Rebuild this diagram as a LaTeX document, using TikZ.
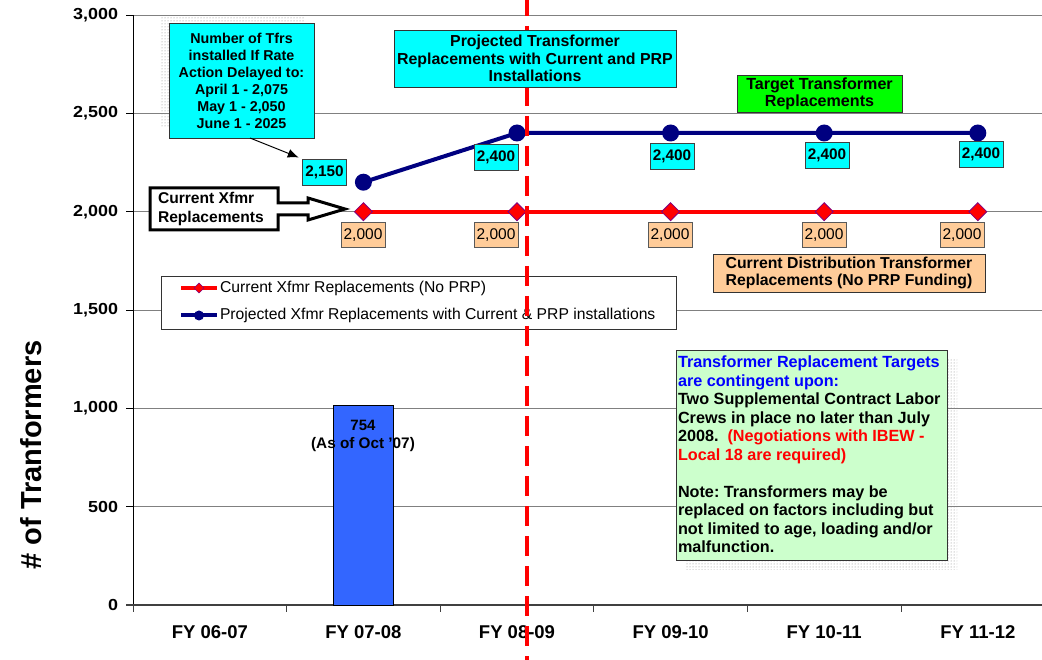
\documentclass[tikz,border=0pt]{standalone}
\usepackage{fontspec}
\setmainfont{Liberation Sans}
\usetikzlibrary{patterns,arrows.meta,shapes.geometric}
\frenchspacing

\definecolor{boxcyan}{HTML}{00FFFF}
\definecolor{boxorange}{HTML}{FFCC99}
\definecolor{boxgreen}{HTML}{00FF00}
\definecolor{notegreen}{HTML}{CCFFCC}
\definecolor{barblue}{HTML}{3366FF}
\definecolor{navyline}{HTML}{000080}
\definecolor{redline}{HTML}{FF0000}
\definecolor{diaedge}{HTML}{800080}
\definecolor{gridgray}{HTML}{808080}
\definecolor{noteblue}{HTML}{0000FF}

\newcommand\fsz[2]{\fontsize{#1}{#2}\selectfont}

\tikzset{
  every node/.style={inner sep=0pt, outer sep=0pt},
  gridline/.style={draw=gridgray, line width=0.8pt},
  textbox/.style={draw=black!80, line width=0.8pt, align=center,
                  font=\bfseries\fsz{15.9}{17.5}},
  valcyan/.style={draw=black!75, line width=0.7pt, fill=boxcyan,
                  minimum width=44pt, minimum height=26pt,
                  font=\bfseries\fsz{15.3}{17}},
  valorange/.style={draw=black!65, line width=0.7pt, fill=boxorange,
                  minimum width=44pt, minimum height=25pt,
                  font=\fsz{15.5}{17}},
  bmark/.style={circle, fill=navyline, minimum size=17pt},
  rmark/.style={diamond, fill=redline, draw=diaedge, line width=0.8pt,
                minimum size=18pt},
  bseries/.style={draw=navyline, line width=4pt},
  rseries/.style={draw=redline, line width=4pt},
  ylbl/.style={anchor=east, font=\bfseries\fsz{16}{18}},
  xlbl/.style={font=\bfseries\fsz{18.5}{20}},
  dotshadow/.style={pattern=dots, pattern color=gray},
}

\begin{document}
\begin{tikzpicture}[x=1pt, y=-1pt]
\useasboundingbox (0,0) rectangle (1042,660);

% ---------- grid and axes ----------
\foreach \v/\t in {0/0,500/500,1000/{1,000},1500/{1,500},2000/{2,000},2500/{2,500},3000/{3,000}}{
  \pgfmathsetmacro\py{605-\v*0.196667}
  \ifnum\v>0
    \draw[gridline] (133,\py) -- (1042,\py);
  \fi
  \draw[black, line width=0.8pt] (126,\py) -- (133,\py);
  \node[ylbl] (y\v) at (118,\py) {\scalebox{1.12}[1]{\t}};
}
\draw[black, line width=1pt] (133,15) -- (133,605);
\draw[black!75, line width=2pt] (126,605) -- (1042,605);
\foreach \tx in {133,286.6,440.2,593.8,747.4,901}{
  \draw[black!75, line width=1pt] (\tx,605) -- (\tx,612);
}
\foreach \i/\t in {0/FY 06-07,1/FY 07-08,2/FY 08-09,3/FY 09-10,4/FY 10-11,5/FY 11-12}{
  \node[xlbl] (fy\i) at ({133+153.6*(\i+0.5)},632) {\t};
}

% axis title
\node[rotate=90, font=\bfseries\fsz{29}{32}] (ytitle) at (31,455) {\# of Tranformers};

% ---------- bar ----------
\draw[fill=barblue, draw=black, line width=0.8pt] (333,605) rectangle (393,405);
\node[font=\bfseries\fsz{15}{16}] (barval) at (363,425) {754};
\node[font=\bfseries\fsz{15.3}{16}] (bardate) at (363,445) {(As of Oct '07)};

% ---------- series ----------
\coordinate (r1) at (363.4,211.7);
\coordinate (r2) at (517,211.7);
\coordinate (r3) at (670.6,211.7);
\coordinate (r4) at (824.2,211.7);
\coordinate (r5) at (977.8,211.7);
\coordinate (b1) at (363.4,182.2);
\coordinate (b2) at (517,133);
\coordinate (b3) at (670.6,133);
\coordinate (b4) at (824.2,133);
\coordinate (b5) at (977.8,133);

\draw[rseries] (r1) -- (r2) -- (r3) -- (r4) -- (r5);
\draw[bseries] (b1) -- (b2) -- (b3) -- (b4) -- (b5);
\foreach \k in {1,...,5}{
  \node[rmark] (rm\k) at (r\k) {};
  \node[bmark] (bm\k) at (b\k) {};
}

% value labels
\node[valcyan] (v2150) at (324.5,172) {2,150};
\node[valcyan] (v2400a) at (496,157) {2,400};
\node[valcyan] (v2400b) at (672,156) {2,400};
\node[valcyan] (v2400c) at (827,155.5) {2,400};
\node[valcyan] (v2400d) at (981,154.5) {2,400};

\node[valorange] (o1) at (363,235) {2,000};
\node[valorange] (o2) at (496,235) {2,000};
\node[valorange] (o3) at (670,235) {2,000};
\node[valorange] (o4) at (824,235) {2,000};
\node[valorange] (o5) at (962,235) {2,000};

% ---------- legend ----------
\draw[fill=white, draw=black!80, line width=0.8pt] (161,276) rectangle (676,329);
\coordinate (la) at (181,288);
\coordinate (lb) at (217,288);
\coordinate (lc) at (181,315.5);
\coordinate (ld) at (217,315.5);
\draw[rseries] (la) -- (lb);
\node[diamond, fill=redline, draw=diaedge, line width=0.6pt, minimum size=10pt] (lgr) at (199,288) {};
\node[anchor=west, font=\fsz{15.7}{17}] (lgrt) at (220,288) {Current Xfmr Replacements (No PRP)};
\draw[bseries] (lc) -- (ld);
\node[circle, fill=navyline, minimum size=10pt] (lgb) at (199,315.5) {};
\node[anchor=west, font=\fsz{15.7}{17}] (lgbt) at (220,315.5) {Projected Xfmr Replacements with Current \& PRP installations};

% ---------- dividing line ----------
\draw[redline, line width=4pt, dash pattern=on 20pt off 10pt, dash phase=4pt] (527,0) -- (527,660);

% ---------- annotation boxes ----------
\fill[dotshadow] (160,17) rectangle (305,128);
\node[textbox, fill=boxcyan, minimum width=145pt, minimum height=115pt,
      font=\bfseries\fsz{14.3}{17}] (tfrs) at (241.5,80.5)
  {Number of Tfrs\\installed If Rate\\Action Delayed to:\\April 1 - 2,075\\May 1 - 2,050\\June 1 - 2025};
\coordinate (tfrsfoot) at (250,138);
\draw[black, line width=1pt, -{Latex[length=11pt, width=9pt]}, shorten >=4pt] (tfrsfoot) -- (v2150.north west);

\node[textbox, fill=boxcyan, minimum width=282pt, minimum height=57pt] (proj) at (535,58.5)
  {Projected Transformer\\Replacements with Current and PRP\\Installations};

\node[textbox, fill=boxgreen, minimum width=165pt, minimum height=37pt,
      font=\bfseries\fsz{16.1}{17}] (target) at (819.5,93.5)
  {Target Transformer\\Replacements};

\node[textbox, fill=boxorange, minimum width=272pt, minimum height=38pt,
      font=\bfseries\fsz{15.8}{17.5}] (cdist) at (849,273)
  {Current Distribution Transformer\\Replacements (No PRP Funding)};

% callout arrow pointing to the current series
\draw[black, line width=3pt, fill=white, line join=miter]
  (150,188) -- (278,188) -- (278,203) -- (308,203) -- (308,198) -- (345,209)
  -- (308,220) -- (308,215) -- (278,215) -- (278,230) -- (150,230) -- cycle;
\node[anchor=west, align=left, font=\bfseries\fsz{15.6}{18.5}] (xfmr) at (158,209)
  {Current Xfmr\\Replacements};

% note box with dotted shadow
\fill[dotshadow] (686,360) rectangle (957,569);
\draw[fill=notegreen, draw=black!80, line width=0.8pt] (676,350) rectangle (947,560);
\node[anchor=north west, align=left, font=\bfseries\fsz{16.2}{18.5}] (note) at (678,356)
  {\textcolor{noteblue}{Transformer Replacement Targets}\\
   \textcolor{noteblue}{are contingent upon:}\\
   Two Supplemental Contract Labor\\
   Crews in place no later than July\\
   2008.\ \ \textcolor{redline}{(Negotiations with IBEW -}\\
   \textcolor{redline}{Local 18 are required)}\\[18.5pt]
   Note: Transformers may be\\
   replaced on factors including but\\
   not limited to age, loading and/or\\
   malfunction.};
\end{tikzpicture}
\end{document}
